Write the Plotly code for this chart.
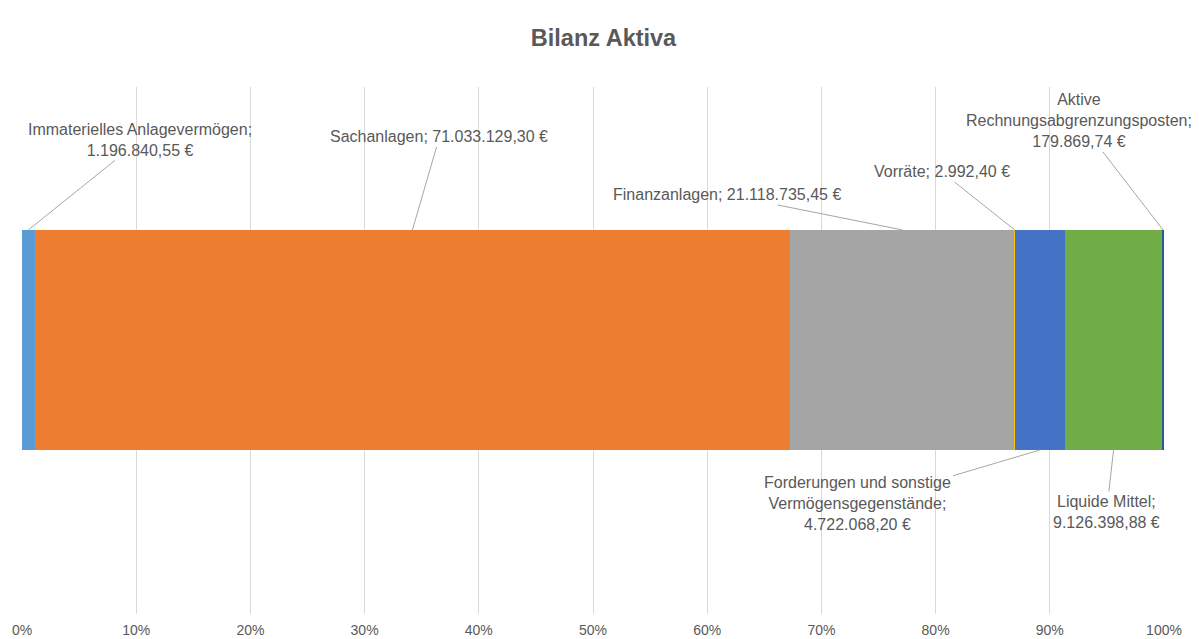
import plotly.graph_objects as go

# Data
categories = ["Immaterielles Anlagevermögen", "Sachanlagen", "Finanzanlagen", "Vorräte",
              "Forderungen und sonstige Vermögensgegenstände", "Liquide Mittel",
              "Aktive Rechnungsabgrenzungsposten"]
values = [1196840.55, 71033129.30, 21118735.45, 2992.40, 4722068.20, 9126398.88, 179869.74]
label_names = ["Immaterielles Anlagevermögen;<br>", "Sachanlagen; ", "Finanzanlagen; ", "Vorräte; ",
               "Forderungen und sonstige<br>Vermögensgegenstände;<br>", "Liquide Mittel;<br>",
               "Aktive<br>Rechnungsabgrenzungsposten;<br>"]
colors = ["#5B9BD5", "#ED7D31", "#A5A5A5", "#FFC000", "#4472C4", "#70AD47", "#255E91"]
tick_vals = [i / 10 for i in range(11)]
tick_text = [f"{i * 10}%" for i in range(11)]

# label placement (pixel offsets from segment midpoint at bar edge)
label_side = ["top", "top", "top", "top", "bottom", "bottom", "top"]
label_ax = [112, 27, -175, -73, -182, -7, -84]
label_ay = [-90, -93, -35, -58, 54, 62, -109]

FONT = "Liberation Sans, Arial, sans-serif"


def de_fmt(v):
    s = f"{v:,.2f}"
    return s.replace(",", "X").replace(".", ",").replace("X", ".") + " €"


total = sum(values)
bar_w = 0.4175

fig = go.Figure()
for name, v, c in zip(categories, values, colors):
    fig.add_trace(go.Bar(
        x=[v], y=[0], orientation="h", name=name, width=bar_w,
        marker=dict(color=c, line=dict(width=0)), hoverinfo="skip",
    ))

cum = 0.0
annotations = []
for i, v in enumerate(values):
    mid = (cum + v / 2) / total
    cum += v
    y_edge = bar_w / 2 if label_side[i] == "top" else -bar_w / 2
    annotations.append(dict(
        x=mid, y=y_edge, xref="x", yref="y",
        text=label_names[i] + de_fmt(v),
        showarrow=True, arrowhead=0, arrowwidth=1, arrowcolor="#A6A6A6",
        ax=label_ax[i], ay=label_ay[i], standoff=0, startstandoff=0,
        font=dict(family=FONT, size=16, color="#595959"),
        align="center",
    ))

# page body has an 8px margin, so the figure is sized to fit inside the window
W, H = 1191, 631
fig.update_layout(
    barmode="stack", barnorm="fraction",
    width=W, height=H,
    margin=dict(l=14, r=35, t=79, b=25, autoexpand=False),
    paper_bgcolor="white", plot_bgcolor="white",
    showlegend=False,
    title=dict(text="<b>Bilanz Aktiva</b>", x=0.5, xanchor="center", y=1 - 30 / H, yanchor="middle",
               font=dict(family=FONT, size=23.5, color="#595959")),
    xaxis=dict(range=[0, 1], tickvals=tick_vals, ticktext=tick_text, automargin=False,
               showgrid=True, gridcolor="#D9D9D9", gridwidth=1, zeroline=False,
               showline=False, ticks="outside", ticklen=3, tickcolor="rgba(0,0,0,0)",
               tickfont=dict(family=FONT, size=14, color="#595959"),
               fixedrange=True),
    yaxis=dict(range=[-0.52, 0.48], visible=False, fixedrange=True),
    annotations=annotations,
)

fig.write_html("out.html")
